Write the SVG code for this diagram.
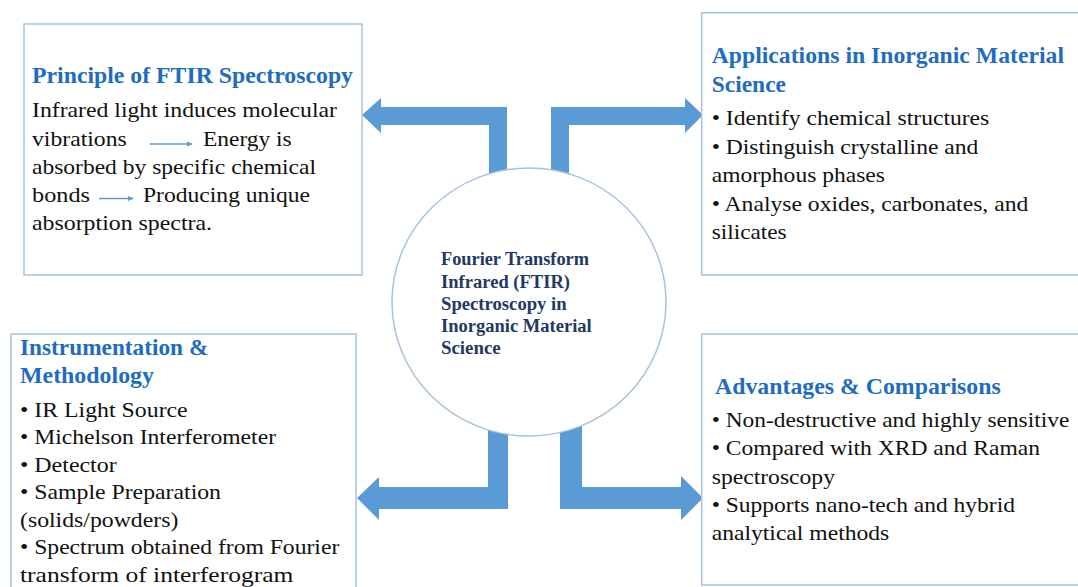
<svg xmlns="http://www.w3.org/2000/svg" width="1078" height="587" viewBox="0 0 1078 587">
<defs>
<style>
.box{fill:#fff;stroke:#a9c3db;stroke-width:1.5}
.ttl{font-family:"Liberation Serif","Times New Roman",serif;font-weight:bold;font-size:23px;fill:#1f6cc0}
.txt{font-family:"Liberation Serif","Times New Roman",serif;font-size:21px;fill:#111}
.ctr{font-family:"Liberation Serif","Times New Roman",serif;font-weight:bold;font-size:18.5px;fill:#1f3864}
.big{fill:#5b9bd5}
.thin{stroke:#5b9bd5;stroke-width:1.3;fill:none}
</style>
<marker id="sm" markerWidth="6" markerHeight="6" refX="5" refY="3" orient="auto" markerUnits="userSpaceOnUse">
<path d="M0,0.5 L6,3 L0,5.5 Z" fill="#5b9bd5"/>
</marker>
</defs>
<rect width="1078" height="587" fill="#fff"/>

<g id="connectors">
<polygon class="big" points="362,115 381,98 381,107 507,107 507,178 489,178 489,125 381,125 381,133"/>
<polygon class="big" points="703,115 685,98 685,107 551,107 551,178 569,178 569,125 685,125 685,133"/>
<polygon class="big" points="357,498 379,477 379,487 488,487 488,426 508,426 508,509 379,509 379,520"/>
<polygon class="big" points="703,498 681,476 681,487 582,487 582,426 560,426 560,509 681,509 681,520"/>
</g>

<g id="center">
<ellipse cx="529" cy="302" rx="137" ry="134" fill="#fff" stroke="#a9c3db" stroke-width="1.5"/>
<text class="ctr" x="441" y="265" textLength="148" lengthAdjust="spacingAndGlyphs">Fourier Transform</text>
<text class="ctr" x="441" y="287.5" textLength="129" lengthAdjust="spacing">Infrared (FTIR)</text>
<text class="ctr" x="441" y="309.5" textLength="125.7" lengthAdjust="spacingAndGlyphs">Spectroscopy in</text>
<text class="ctr" x="441" y="331.7" textLength="150.7" lengthAdjust="spacing">Inorganic Material</text>
<text class="ctr" x="441" y="354" textLength="59.7" lengthAdjust="spacingAndGlyphs">Science</text>
</g>

<g id="principle">
<rect class="box" x="24" y="24" width="338" height="251"/>
<text class="ttl" x="32" y="83.3" textLength="321" lengthAdjust="spacingAndGlyphs">Principle of FTIR Spectroscopy</text>
<text class="txt" x="32" y="117.3" textLength="305" lengthAdjust="spacingAndGlyphs">Infrared light induces molecular</text>
<text class="txt" x="32" y="145.7" textLength="94.7" lengthAdjust="spacingAndGlyphs">vibrations</text>
<line class="thin" x1="150" y1="144" x2="192" y2="144" marker-end="url(#sm)"/>
<text class="txt" x="203" y="145.7" textLength="88.7" lengthAdjust="spacingAndGlyphs">Energy is</text>
<text class="txt" x="32" y="174" textLength="284" lengthAdjust="spacingAndGlyphs">absorbed by specific chemical</text>
<text class="txt" x="32" y="202.3" textLength="58" lengthAdjust="spacingAndGlyphs">bonds</text>
<line class="thin" x1="99" y1="198.5" x2="133" y2="198.5" marker-end="url(#sm)"/>
<text class="txt" x="143" y="202.3" textLength="167" lengthAdjust="spacingAndGlyphs">Producing unique</text>
<text class="txt" x="32" y="230" textLength="180" lengthAdjust="spacingAndGlyphs">absorption spectra.</text>
</g>

<g id="applications">
<rect class="box" x="701.7" y="12.7" width="400" height="262.3"/>
<text class="ttl" x="711.7" y="63.3" textLength="352.3" lengthAdjust="spacingAndGlyphs">Applications in Inorganic Material</text>
<text class="ttl" x="711.7" y="91.7" textLength="74.3" lengthAdjust="spacingAndGlyphs">Science</text>
<text class="txt" x="711.7" y="125" textLength="277.6" lengthAdjust="spacingAndGlyphs">• Identify chemical structures</text>
<text class="txt" x="711.7" y="153.5" textLength="266.6" lengthAdjust="spacingAndGlyphs">• Distinguish crystalline and</text>
<text class="txt" x="711.7" y="182" textLength="173.3" lengthAdjust="spacingAndGlyphs">amorphous phases</text>
<text class="txt" x="711.7" y="210.5" textLength="316.6" lengthAdjust="spacingAndGlyphs">• Analyse oxides, carbonates, and</text>
<text class="txt" x="711.7" y="239" textLength="75" lengthAdjust="spacingAndGlyphs">silicates</text>
</g>

<g id="instrumentation">
<rect class="box" x="11" y="334" width="345" height="300"/>
<text class="ttl" x="20" y="355" textLength="188.3" lengthAdjust="spacingAndGlyphs">Instrumentation &amp;</text>
<text class="ttl" x="20" y="382.5" textLength="134" lengthAdjust="spacingAndGlyphs">Methodology</text>
<text class="txt" x="20" y="416.5" textLength="167.7" lengthAdjust="spacingAndGlyphs">• IR Light Source</text>
<text class="txt" x="20" y="444" textLength="256" lengthAdjust="spacingAndGlyphs">• Michelson Interferometer</text>
<text class="txt" x="20" y="471.5" textLength="96.7" lengthAdjust="spacingAndGlyphs">• Detector</text>
<text class="txt" x="20" y="499" textLength="201" lengthAdjust="spacingAndGlyphs">• Sample Preparation</text>
<text class="txt" x="20" y="526.5" textLength="158.3" lengthAdjust="spacingAndGlyphs">(solids/powders)</text>
<text class="txt" x="20" y="554" textLength="319.3" lengthAdjust="spacingAndGlyphs">• Spectrum obtained from Fourier</text>
<text class="txt" x="20" y="581.5" textLength="273.3" lengthAdjust="spacingAndGlyphs">transform of interferogram</text>
</g>

<g id="advantages">
<rect class="box" x="701.7" y="334" width="400" height="251"/>
<text class="ttl" x="715" y="394.3" textLength="285.7" lengthAdjust="spacingAndGlyphs">Advantages &amp; Comparisons</text>
<text class="txt" x="711.7" y="426.7" textLength="357.6" lengthAdjust="spacingAndGlyphs">• Non-destructive and highly sensitive</text>
<text class="txt" x="711.7" y="455.2" textLength="328.3" lengthAdjust="spacingAndGlyphs">• Compared with XRD and Raman</text>
<text class="txt" x="711.7" y="483.5" textLength="123.3" lengthAdjust="spacingAndGlyphs">spectroscopy</text>
<text class="txt" x="711.7" y="511.8" textLength="303.3" lengthAdjust="spacingAndGlyphs">• Supports nano-tech and hybrid</text>
<text class="txt" x="711.7" y="540" textLength="177.6" lengthAdjust="spacingAndGlyphs">analytical methods</text>
</g>
</svg>
